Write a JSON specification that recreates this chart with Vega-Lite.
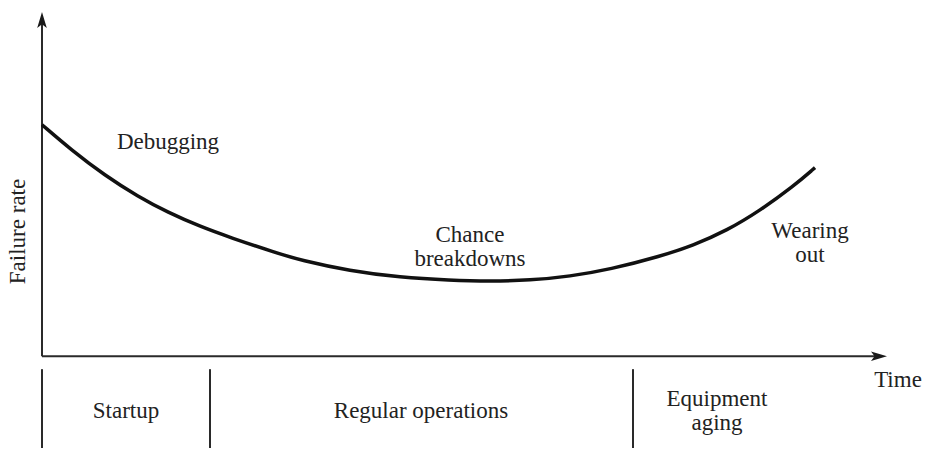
{
  "$schema": "https://vega.github.io/schema/vega-lite/v6.json",
  "width": 929,
  "height": 449,
  "autosize": {"type": "fit", "contains": "padding"},
  "padding": 0,
  "background": "white",
  "config": {"view": {"stroke": null}},
  "datasets": {
    "curve": [
      {"t": 0, "r": 67.25},
      {"t": 3.43, "r": 60.0},
      {"t": 7.46, "r": 52.46},
      {"t": 11.36, "r": 46.38},
      {"t": 14.91, "r": 41.74},
      {"t": 18.7, "r": 37.68},
      {"t": 22.25, "r": 34.49},
      {"t": 27.93, "r": 29.86},
      {"t": 30.53, "r": 27.94},
      {"t": 36.45, "r": 24.75},
      {"t": 42.37, "r": 22.9},
      {"t": 48.28, "r": 22.03},
      {"t": 53.02, "r": 21.74},
      {"t": 57.75, "r": 22.03},
      {"t": 62.49, "r": 23.19},
      {"t": 67.22, "r": 25.22},
      {"t": 73.14, "r": 28.99},
      {"t": 77.04, "r": 32.17},
      {"t": 81.07, "r": 36.52},
      {"t": 84.97, "r": 42.32},
      {"t": 88.88, "r": 49.28},
      {"t": 91.48, "r": 54.78}
    ],
    "vrules": [
      {"t": 0, "r": 0, "r2": 97.7},
      {"t": 0, "r": -3.77, "r2": -26.67},
      {"t": 19.88, "r": -3.77, "r2": -26.67},
      {"t": 69.94, "r": -3.77, "r2": -26.67}
    ],
    "hrules": [
      {"t": 0, "t2": 99.0, "r": 0}
    ],
    "arrows": [
      {"t": 0, "r": 97.68, "dir": "up"},
      {"t": 99.05, "r": 0, "dir": "right"}
    ],
    "labels": [
      {"t": 14.91, "r": 62.32, "label": "Debugging"},
      {"t": 50.65, "r": 35.07, "label": "Chance\nbreakdowns"},
      {"t": 90.89, "r": 36.23, "label": "Wearing\nout"},
      {"t": 101.3, "r": -6.96, "label": "Time"},
      {"t": 9.94, "r": -15.94, "label": "Startup"},
      {"t": 44.85, "r": -15.94, "label": "Regular operations"},
      {"t": 79.88, "r": -12.46, "label": "Equipment\naging"}
    ],
    "ylabel": [
      {"t": -2.84, "r": 36.23, "label": "Failure rate"}
    ]
  },
  "layer": [
    {
      "data": {"name": "vrules"},
      "mark": {"type": "rule", "color": "#2a2a2a", "strokeWidth": 2},
      "encoding": {
        "x": {"field": "t", "type": "quantitative", "scale": {"domain": [-4.97, 104.97], "nice": false, "zero": false}, "axis": null},
        "y": {"field": "r", "type": "quantitative", "scale": {"domain": [-26.67, 103.48], "nice": false, "zero": false}, "axis": null},
        "y2": {"field": "r2"}
      }
    },
    {
      "data": {"name": "hrules"},
      "mark": {"type": "rule", "color": "#2a2a2a", "strokeWidth": 2},
      "encoding": {
        "x": {"field": "t", "type": "quantitative"},
        "x2": {"field": "t2"},
        "y": {"field": "r", "type": "quantitative"}
      }
    },
    {
      "data": {"name": "arrows"},
      "mark": {"type": "point", "filled": true, "color": "#1a1a1a", "size": 256, "opacity": 1, "strokeWidth": 0},
      "encoding": {
        "x": {"field": "t", "type": "quantitative"},
        "y": {"field": "r", "type": "quantitative"},
        "shape": {
          "field": "dir",
          "type": "nominal",
          "scale": {"domain": ["up", "right"], "range": ["M0,-1L0.6,1L0,0.55L-0.6,1Z", "M1,0L-1,0.6L-0.55,0L-1,-0.6Z"]},
          "legend": null
        }
      }
    },
    {
      "data": {"name": "curve"},
      "mark": {"type": "line", "color": "#111111", "strokeWidth": 3.5, "interpolate": "basis"},
      "encoding": {
        "x": {"field": "t", "type": "quantitative"},
        "y": {"field": "r", "type": "quantitative"}
      }
    },
    {
      "data": {"name": "labels"},
      "mark": {"type": "text", "font": "Liberation Serif", "fontSize": 23, "color": "#222222", "align": "center", "baseline": "middle", "lineBreak": "\n", "lineHeight": 24},
      "encoding": {
        "x": {"field": "t", "type": "quantitative"},
        "y": {"field": "r", "type": "quantitative"},
        "text": {"field": "label"}
      }
    },
    {
      "data": {"name": "ylabel"},
      "mark": {"type": "text", "font": "Liberation Serif", "fontSize": 23, "color": "#222222", "align": "center", "baseline": "middle", "angle": 270},
      "encoding": {
        "x": {"field": "t", "type": "quantitative"},
        "y": {"field": "r", "type": "quantitative"},
        "text": {"field": "label"}
      }
    }
  ]
}
